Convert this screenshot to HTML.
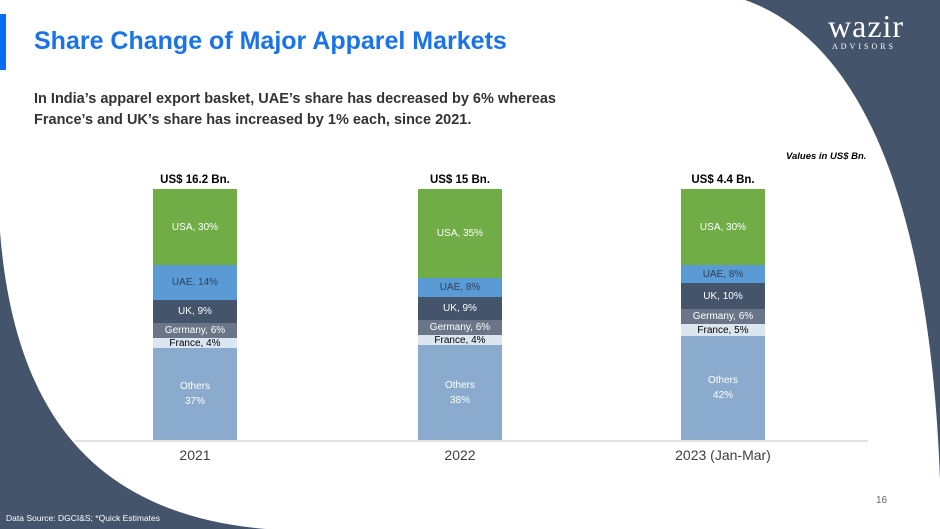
<!DOCTYPE html>
<html><head><style>
body{margin:0;width:940px;height:529px;overflow:hidden;background:#fff;font-family:"Liberation Sans",sans-serif;position:relative}
.a{position:absolute}
.seg{position:absolute;left:0;width:84px;display:flex;align-items:center;justify-content:center;font-size:10px;color:#fff;text-align:center;line-height:15px}
.bar{position:absolute;top:189px;width:84px;height:251px}
.tot{position:absolute;top:174px;font-weight:bold;font-size:11.5px;color:#000;width:140px;text-align:center}
.yr{position:absolute;top:447px;font-size:14px;color:#404040;width:200px;text-align:center}
</style></head><body>
<svg class="a" style="left:0;top:0" width="940" height="529">
<path d="M745 0 C860 40 930 200 940 480 L940 0 Z" fill="#44546a"/>
<path d="M0 232 C15 420 100 515 266 529 L0 529 Z" fill="#44546a"/>
<rect x="0" y="14" width="6" height="56" fill="#0a6cf0"/>
<line x1="75" y1="441" x2="868" y2="441" stroke="#d9d9d9" stroke-width="1.5"/>
</svg>
<div class="a" style="left:828px;top:8px;color:#fff;font-family:'Liberation Serif',serif;font-size:32px;letter-spacing:1px">wazir</div>
<div class="a" style="left:832px;top:42px;color:#fff;font-family:'Liberation Serif',serif;font-size:8px;letter-spacing:3px">ADVISORS</div>
<div class="a" style="left:34px;top:27px;color:#1a73e8;font-weight:bold;font-size:25px">Share Change of Major Apparel Markets</div>
<div class="a" style="left:34px;top:89px;color:#333;font-weight:bold;font-size:14.5px;line-height:21px">In India’s apparel export basket, UAE’s share has decreased by 6% whereas<br>France’s and UK’s share has increased by 1% each, since 2021.</div>
<div class="a" style="left:786px;top:151px;font-size:9.5px;font-weight:bold;font-style:italic;color:#000">Values in US$ Bn.</div>

<div class="tot" style="left:125px">US$ 16.2 Bn.</div>
<div class="tot" style="left:390px">US$ 15 Bn.</div>
<div class="tot" style="left:653px">US$ 4.4 Bn.</div>

<div class="bar" style="left:153px">
<div class="seg" style="top:0;height:76px;background:#70ad47">USA, 30%</div>
<div class="seg" style="top:76px;height:35px;background:#5b9bd5;color:#2f3f55">UAE, 14%</div>
<div class="seg" style="top:111px;height:23px;background:#44546a">UK, 9%</div>
<div class="seg" style="top:134px;height:15px;background:#6a7687">Germany, 6%</div>
<div class="seg" style="top:149px;height:10px;background:#dce6f0;color:#000">France, 4%</div>
<div class="seg" style="top:159px;height:92px;background:#8aabcd">Others<br>37%</div>
</div>
<div class="bar" style="left:418px">
<div class="seg" style="top:0;height:89px;background:#70ad47">USA, 35%</div>
<div class="seg" style="top:89px;height:19px;background:#5b9bd5;color:#2f3f55">UAE, 8%</div>
<div class="seg" style="top:108px;height:23px;background:#44546a">UK, 9%</div>
<div class="seg" style="top:131px;height:15px;background:#6a7687">Germany, 6%</div>
<div class="seg" style="top:146px;height:10px;background:#dce6f0;color:#000">France, 4%</div>
<div class="seg" style="top:156px;height:95px;background:#8aabcd">Others<br>38%</div>
</div>
<div class="bar" style="left:681px">
<div class="seg" style="top:0;height:76px;background:#70ad47">USA, 30%</div>
<div class="seg" style="top:76px;height:18px;background:#5b9bd5;color:#2f3f55">UAE, 8%</div>
<div class="seg" style="top:94px;height:26px;background:#44546a">UK, 10%</div>
<div class="seg" style="top:120px;height:15px;background:#6a7687">Germany, 6%</div>
<div class="seg" style="top:135px;height:12px;background:#dce6f0;color:#000">France, 5%</div>
<div class="seg" style="top:147px;height:104px;background:#8aabcd">Others<br>42%</div>
</div>

<div class="yr" style="left:95px">2021</div>
<div class="yr" style="left:360px">2022</div>
<div class="yr" style="left:623px">2023 (Jan-Mar)</div>
<div class="a" style="left:876px;top:495px;font-size:10px;color:#666">16</div>
<div class="a" style="left:6px;top:513px;font-size:8.5px;color:#fff">Data Source: DGCI&amp;S; *Quick Estimates</div>
</body></html>
